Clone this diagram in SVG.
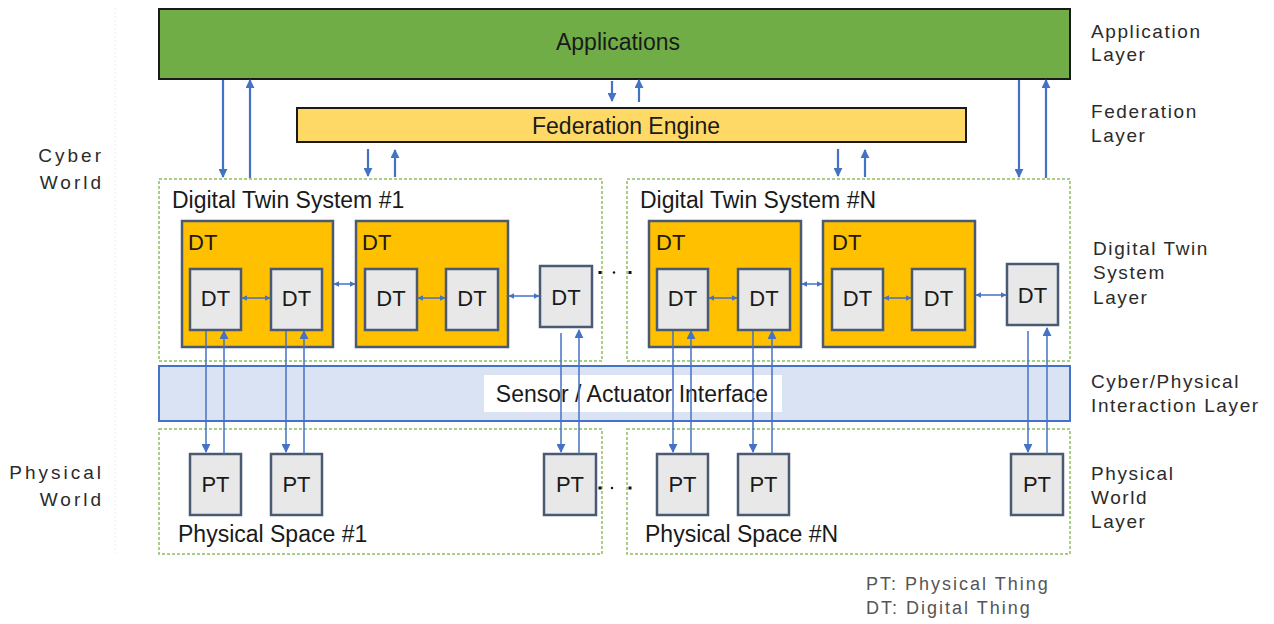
<svg xmlns="http://www.w3.org/2000/svg" width="1274" height="624" viewBox="0 0 1274 624">
  <style>
    text { font-family: "Liberation Sans", Arial, sans-serif; }
    .title { font-size: 23px; fill: #1a1a1a; }
    .lbl { font-size: 22px; fill: #1a1a1a; }
    .side { font-size: 19px; fill: #2b2b2b; letter-spacing: 1.6px; }
    .world { font-size: 19px; fill: #2b2b2b; letter-spacing: 3px; text-anchor: end; }
    .legend { font-size: 18px; fill: #555; letter-spacing: 2px; }
    .mid { text-anchor: middle; }
    .space { fill: #ffffff; stroke: #8fbf5f; stroke-width: 1.5; stroke-dasharray: 3 2; }
    .dtgroup { fill: #ffc000; stroke: #4b5a73; stroke-width: 2.5; }
    .thing { fill: #e8e8e8; stroke: #4b5a73; stroke-width: 2.5; }
    .link { stroke: #4472c4; fill: none; }
    .thick { stroke-width: 2.2; }
    .thin { stroke-width: 1.5; }
    .dot { fill: #111; }
  </style>
  <defs>
    <marker id="head" viewBox="0 0 10 10" refX="9" refY="5" markerWidth="9" markerHeight="9" markerUnits="userSpaceOnUse" orient="auto-start-reverse">
      <path d="M0,0 L10,5 L0,10 z" fill="#4472c4"/>
    </marker>
    <marker id="small" viewBox="0 0 10 10" refX="9" refY="5" markerWidth="6" markerHeight="6" markerUnits="userSpaceOnUse" orient="auto-start-reverse">
      <path d="M0,0 L10,5 L0,10 z" fill="#4472c4"/>
    </marker>
  </defs>

  <!-- faint margin rule -->
  <line x1="115" y1="8" x2="115" y2="553" stroke="#ececec" stroke-width="1" stroke-dasharray="2 2"/>

  <!-- world labels -->
  <g id="world-labels">
    <text class="world" x="104" y="162">Cyber</text>
    <text class="world" x="104" y="189">World</text>
    <text class="world" x="104" y="479">Physical</text>
    <text class="world" x="104" y="506">World</text>
  </g>

  <!-- layer labels -->
  <g id="layer-labels">
    <text class="side" x="1091" y="38">Application</text>
    <text class="side" x="1091" y="61">Layer</text>
    <text class="side" x="1091" y="118">Federation</text>
    <text class="side" x="1091" y="142">Layer</text>
    <text class="side" x="1093" y="255">Digital Twin</text>
    <text class="side" x="1093" y="279">System</text>
    <text class="side" x="1093" y="304">Layer</text>
    <text class="side" x="1091" y="388">Cyber/Physical</text>
    <text class="side" x="1091" y="412">Interaction Layer</text>
    <text class="side" x="1091" y="480">Physical</text>
    <text class="side" x="1091" y="504">World</text>
    <text class="side" x="1091" y="528">Layer</text>
  </g>

  <!-- application layer -->
  <g id="applications">
    <rect x="159" y="9" width="911" height="70" fill="#70ad47" stroke="#1a1a1a" stroke-width="2"/>
    <text class="title mid" x="618" y="50" fill="#12300a">Applications</text>
  </g>

  <!-- federation layer -->
  <g id="federation-engine">
    <rect x="297" y="108" width="669" height="34" fill="#ffd966" stroke="#1a1a1a" stroke-width="2"/>
    <text class="title mid" x="626" y="134">Federation Engine</text>
  </g>

  <!-- digital twin system #1 -->
  <g id="dts-1">
    <rect class="space" x="159" y="179" width="443" height="182"/>
    <text class="title" x="172" y="208">Digital Twin System #1</text>
  </g>
  <g id="dt-1a">
    <rect class="dtgroup" x="182" y="221" width="151" height="126"/>
    <text class="lbl" x="188" y="250">DT</text>
  </g>
  <g id="dt-1a-1">
    <rect class="thing" x="190" y="269" width="51" height="61"/>
    <text class="lbl mid" x="215.5" y="306">DT</text>
  </g>
  <g id="dt-1a-2">
    <rect class="thing" x="271" y="269" width="51" height="61"/>
    <text class="lbl mid" x="296.5" y="306">DT</text>
  </g>
  <g id="dt-1b">
    <rect class="dtgroup" x="356" y="221" width="152" height="126"/>
    <text class="lbl" x="362" y="250">DT</text>
  </g>
  <g id="dt-1b-1">
    <rect class="thing" x="365" y="269" width="52" height="61"/>
    <text class="lbl mid" x="391" y="306">DT</text>
  </g>
  <g id="dt-1b-2">
    <rect class="thing" x="446" y="269" width="52" height="61"/>
    <text class="lbl mid" x="472" y="306">DT</text>
  </g>
  <g id="dt-1c">
    <rect class="thing" x="540" y="266" width="52" height="61"/>
    <text class="lbl mid" x="566" y="305">DT</text>
  </g>

  <!-- digital twin system #N -->
  <g id="dts-n">
    <rect class="space" x="627" y="179" width="443" height="182"/>
    <text class="title" x="640" y="208">Digital Twin System #N</text>
  </g>
  <g id="dt-na">
    <rect class="dtgroup" x="649" y="221" width="152" height="126"/>
    <text class="lbl" x="656" y="250">DT</text>
  </g>
  <g id="dt-na-1">
    <rect class="thing" x="657" y="269" width="51" height="61"/>
    <text class="lbl mid" x="682.5" y="306">DT</text>
  </g>
  <g id="dt-na-2">
    <rect class="thing" x="738" y="269" width="52" height="61"/>
    <text class="lbl mid" x="764" y="306">DT</text>
  </g>
  <g id="dt-nb">
    <rect class="dtgroup" x="823" y="221" width="152" height="126"/>
    <text class="lbl" x="832" y="250">DT</text>
  </g>
  <g id="dt-nb-1">
    <rect class="thing" x="832" y="269" width="51" height="61"/>
    <text class="lbl mid" x="857.5" y="306">DT</text>
  </g>
  <g id="dt-nb-2">
    <rect class="thing" x="912" y="269" width="53" height="61"/>
    <text class="lbl mid" x="938.5" y="306">DT</text>
  </g>
  <g id="dt-nc">
    <rect class="thing" x="1007" y="264" width="51" height="61"/>
    <text class="lbl mid" x="1032.5" y="303">DT</text>
  </g>

  <!-- ellipsis between systems -->
  <g id="dts-ellipsis">
    <rect class="dot" x="598.5" y="271" width="3" height="3"/>
    <circle class="dot" cx="614" cy="272.5" r="1.2"/>
    <rect class="dot" x="628.5" y="271" width="3" height="3"/>
  </g>

  <!-- cyber/physical interaction band -->
  <g id="sensor-actuator-interface">
    <rect x="159" y="366" width="911" height="55" fill="#dae3f3" stroke="#4472c4" stroke-width="2"/>
    <rect x="484" y="375" width="298" height="37" fill="#ffffff"/>
    <text class="title mid" x="632" y="402">Sensor / Actuator Interface</text>
  </g>

  <!-- physical spaces -->
  <g id="ps-1">
    <rect class="space" x="159" y="429" width="443" height="125"/>
    <text class="title" x="178" y="542">Physical Space #1</text>
  </g>
  <g id="pt-1a">
    <rect class="thing" x="190" y="454" width="51" height="61"/>
    <text class="lbl mid" x="215.5" y="492">PT</text>
  </g>
  <g id="pt-1b">
    <rect class="thing" x="271" y="454" width="51" height="61"/>
    <text class="lbl mid" x="296.5" y="492">PT</text>
  </g>
  <g id="pt-1c">
    <rect class="thing" x="544" y="454" width="52" height="61"/>
    <text class="lbl mid" x="570" y="492">PT</text>
  </g>
  <g id="ps-n">
    <rect class="space" x="627" y="429" width="443" height="125"/>
    <text class="title" x="645" y="542">Physical Space #N</text>
  </g>
  <g id="pt-na">
    <rect class="thing" x="657" y="454" width="51" height="61"/>
    <text class="lbl mid" x="682.5" y="492">PT</text>
  </g>
  <g id="pt-nb">
    <rect class="thing" x="738" y="454" width="51" height="61"/>
    <text class="lbl mid" x="763.5" y="492">PT</text>
  </g>
  <g id="pt-nc">
    <rect class="thing" x="1011" y="454" width="52" height="61"/>
    <text class="lbl mid" x="1037" y="492">PT</text>
  </g>
  <g id="ps-ellipsis">
    <rect class="dot" x="598.5" y="486.5" width="3" height="3"/>
    <circle class="dot" cx="612" cy="488" r="1.2"/>
    <rect class="dot" x="628.5" y="486.5" width="3" height="3"/>
  </g>

  <!-- connectors -->
  <g id="connectors">
    <!-- applications <-> twin systems -->
    <line class="link thick" x1="223" y1="80" x2="223" y2="177" marker-end="url(#head)"/>
    <line class="link thick" x1="250" y1="178" x2="250" y2="80" marker-end="url(#head)"/>
    <line class="link thick" x1="1019" y1="80" x2="1019" y2="177" marker-end="url(#head)"/>
    <line class="link thick" x1="1046" y1="178" x2="1046" y2="80" marker-end="url(#head)"/>
    <!-- applications <-> federation -->
    <line class="link thick" x1="612" y1="81" x2="612" y2="101" marker-end="url(#head)"/>
    <line class="link thick" x1="639" y1="102" x2="639" y2="80" marker-end="url(#head)"/>
    <!-- federation <-> twin systems -->
    <line class="link thick" x1="368" y1="149" x2="368" y2="176" marker-end="url(#head)"/>
    <line class="link thick" x1="395" y1="177" x2="395" y2="150" marker-end="url(#head)"/>
    <line class="link thick" x1="838" y1="149" x2="838" y2="176" marker-end="url(#head)"/>
    <line class="link thick" x1="865" y1="177" x2="865" y2="150" marker-end="url(#head)"/>

    <!-- peer links inside system #1 -->
    <line class="link thin" x1="242" y1="298" x2="270" y2="298" marker-start="url(#small)" marker-end="url(#small)"/>
    <line class="link thin" x1="334" y1="284" x2="355" y2="284" marker-start="url(#small)" marker-end="url(#small)"/>
    <line class="link thin" x1="418" y1="298" x2="445" y2="298" marker-start="url(#small)" marker-end="url(#small)"/>
    <line class="link thin" x1="509" y1="296" x2="539" y2="296" marker-start="url(#small)" marker-end="url(#small)"/>
    <!-- peer links inside system #N -->
    <line class="link thin" x1="709" y1="298" x2="737" y2="298" marker-start="url(#small)" marker-end="url(#small)"/>
    <line class="link thin" x1="802" y1="284" x2="822" y2="284" marker-start="url(#small)" marker-end="url(#small)"/>
    <line class="link thin" x1="884" y1="298" x2="911" y2="298" marker-start="url(#small)" marker-end="url(#small)"/>
    <line class="link thin" x1="976" y1="295" x2="1006" y2="295" marker-start="url(#small)" marker-end="url(#small)"/>

    <!-- digital things <-> physical things -->
    <line class="link thin" x1="206" y1="331" x2="206" y2="452" marker-end="url(#head)"/>
    <line class="link thin" x1="224" y1="454" x2="224" y2="331" marker-end="url(#head)"/>
    <line class="link thin" x1="286" y1="331" x2="286" y2="452" marker-end="url(#head)"/>
    <line class="link thin" x1="304" y1="454" x2="304" y2="331" marker-end="url(#head)"/>
    <line class="link thin" x1="561" y1="333" x2="561" y2="452" marker-end="url(#head)"/>
    <line class="link thin" x1="579" y1="454" x2="579" y2="330" marker-end="url(#head)"/>
    <line class="link thin" x1="673" y1="331" x2="673" y2="452" marker-end="url(#head)"/>
    <line class="link thin" x1="691" y1="454" x2="691" y2="331" marker-end="url(#head)"/>
    <line class="link thin" x1="753" y1="331" x2="753" y2="452" marker-end="url(#head)"/>
    <line class="link thin" x1="772" y1="454" x2="772" y2="331" marker-end="url(#head)"/>
    <line class="link thin" x1="1028" y1="331" x2="1028" y2="452" marker-end="url(#head)"/>
    <line class="link thin" x1="1047" y1="454" x2="1047" y2="328" marker-end="url(#head)"/>
  </g>

  <!-- legend -->
  <g id="legend">
    <text class="legend" x="866" y="590">PT: Physical Thing</text>
    <text class="legend" x="866" y="614">DT: Digital Thing</text>
  </g>
</svg>
